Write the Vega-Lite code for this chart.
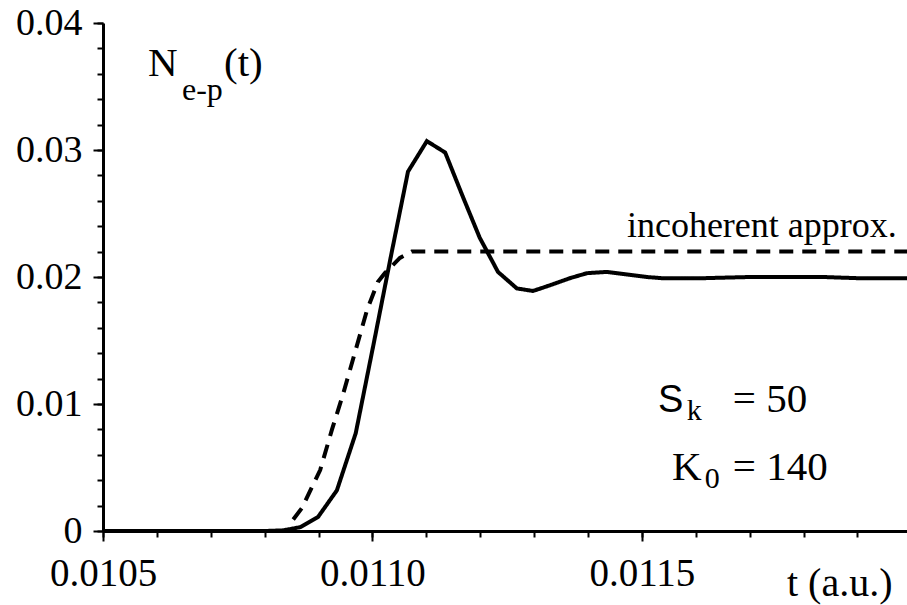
{
  "$schema": "https://vega.github.io/schema/vega-lite/v6.json",
  "width": 804,
  "height": 508,
  "autosize": "none",
  "padding": {"left": 103, "top": 23, "right": 0, "bottom": 74},
  "background": "white",
  "config": {
    "view": {"stroke": null},
    "font": "Liberation Serif",
    "text": {"font": "Liberation Serif", "color": "black"},
    "axis": {
      "grid": false,
      "domainColor": "black",
      "domainWidth": 3,
      "tickColor": "black",
      "tickWidth": 2,
      "labelColor": "black",
      "labelFont": "Liberation Serif",
      "titleFont": "Liberation Serif",
      "titleColor": "black",
      "titleFontWeight": "normal",
      "labelOverlap": false,
      "labelFlush": false
    }
  },
  "datasets": {
    "curves": [
      {"t": 0.010500, "N": 0.0000, "series": "exact"},
      {"t": 0.010800, "N": 0.0000, "series": "exact"},
      {"t": 0.010834, "N": 0.00005, "series": "exact"},
      {"t": 0.010866, "N": 0.0003, "series": "exact"},
      {"t": 0.010899, "N": 0.0011, "series": "exact"},
      {"t": 0.010934, "N": 0.0032, "series": "exact"},
      {"t": 0.010969, "N": 0.0077, "series": "exact"},
      {"t": 0.011003, "N": 0.0149, "series": "exact"},
      {"t": 0.011036, "N": 0.0220, "series": "exact"},
      {"t": 0.011066, "N": 0.0283, "series": "exact"},
      {"t": 0.011101, "N": 0.0307, "series": "exact"},
      {"t": 0.011135, "N": 0.0298, "series": "exact"},
      {"t": 0.011168, "N": 0.0263, "series": "exact"},
      {"t": 0.011199, "N": 0.0231, "series": "exact"},
      {"t": 0.011233, "N": 0.0204, "series": "exact"},
      {"t": 0.011268, "N": 0.0191, "series": "exact"},
      {"t": 0.011298, "N": 0.0189, "series": "exact"},
      {"t": 0.011333, "N": 0.0194, "series": "exact"},
      {"t": 0.011366, "N": 0.0199, "series": "exact"},
      {"t": 0.011398, "N": 0.0203, "series": "exact"},
      {"t": 0.011435, "N": 0.0204, "series": "exact"},
      {"t": 0.011472, "N": 0.0202, "series": "exact"},
      {"t": 0.011509, "N": 0.0200, "series": "exact"},
      {"t": 0.011539, "N": 0.0199, "series": "exact"},
      {"t": 0.011571, "N": 0.0199, "series": "exact"},
      {"t": 0.011608, "N": 0.0199, "series": "exact"},
      {"t": 0.011700, "N": 0.0200, "series": "exact"},
      {"t": 0.011775, "N": 0.0200, "series": "exact"},
      {"t": 0.011836, "N": 0.0200, "series": "exact"},
      {"t": 0.011905, "N": 0.0199, "series": "exact"},
      {"t": 0.011992, "N": 0.0199, "series": "exact"},
      {"t": 0.010853, "N": 0.0009, "series": "incoherent"},
      {"t": 0.010869, "N": 0.0018, "series": "incoherent"},
      {"t": 0.010903, "N": 0.0048, "series": "incoherent"},
      {"t": 0.010925, "N": 0.0080, "series": "incoherent"},
      {"t": 0.010945, "N": 0.0107, "series": "incoherent"},
      {"t": 0.010990, "N": 0.0174, "series": "incoherent"},
      {"t": 0.011010, "N": 0.0196, "series": "incoherent"},
      {"t": 0.011023, "N": 0.0203, "series": "incoherent"},
      {"t": 0.011051, "N": 0.0215, "series": "incoherent"},
      {"t": 0.011073, "N": 0.0220, "series": "incoherent"},
      {"t": 0.011992, "N": 0.0220, "series": "incoherent"}
    ],
    "one": [{}]
  },
  "resolve": {"axis": {"x": "independent", "y": "independent"}},
  "layer": [
    {
      "data": {"name": "curves"},
      "mark": {"type": "line", "color": "black", "strokeWidth": 4, "strokeJoin": "miter", "strokeCap": "butt", "clip": true},
      "encoding": {
        "x": {
          "field": "t", "type": "quantitative",
          "scale": {"domain": [0.0105, 0.011992], "nice": false, "zero": false},
          "axis": {
            "orient": "bottom",
            "values": [0.0105, 0.011, 0.0115],
            "format": ".4f",
            "domain": false,
            "tickSize": 10,
            "labelFontSize": 39,
            "labelBaseline": "alphabetic",
            "labelPadding": 44,
            "title": "t (a.u.)",
            "titleFontSize": 40,
            "titleAnchor": null,
            "titleAlign": "right",
            "titleBaseline": "alphabetic",
            "titleX": 789,
            "titleY": 64
          }
        },
        "y": {
          "field": "N", "type": "quantitative",
          "scale": {"domain": [0, 0.04], "nice": false},
          "axis": {
            "orient": "left",
            "values": [0, 0.01, 0.02, 0.03, 0.04],
            "labelExpr": "datum.value == 0 ? '0' : format(datum.value, '.2f')",
            "domain": false,
            "tickSize": 10,
            "labelFontSize": 38,
            "labelPadding": 11,
            "labelBaseline": "middle",
            "title": null
          }
        },
        "strokeDash": {
          "field": "series", "type": "nominal",
          "scale": {"domain": ["exact", "incoherent"], "range": [[1, 0], [14, 9]]},
          "legend": null
        }
      }
    },
    {
      "data": {"name": "one"},
      "mark": {"type": "text", "align": "left", "baseline": "alphabetic", "fontSize": 41},
      "encoding": {
        "x": {
          "datum": 0.0105835, "type": "quantitative",
          "scale": {"domain": [0.0105, 0.011992], "nice": false, "zero": false},
          "axis": {
            "orient": "bottom",
            "values": [0.0105, 0.0106, 0.0107, 0.0108, 0.0109, 0.011, 0.0111, 0.0112, 0.0113, 0.0114, 0.0115, 0.0116, 0.0117, 0.0118, 0.0119],
            "labels": false,
            "domain": true,
            "tickSize": 6,
            "title": null
          }
        },
        "y": {
          "datum": 0.035827, "type": "quantitative",
          "scale": {"domain": [0, 0.04], "nice": false},
          "axis": {
            "orient": "left",
            "values": [0, 0.002, 0.004, 0.006, 0.008, 0.01, 0.012, 0.014, 0.016, 0.018, 0.02, 0.022, 0.024, 0.026, 0.028, 0.03, 0.032, 0.034, 0.036, 0.038, 0.04],
            "labels": false,
            "domain": true,
            "tickSize": 6,
            "title": null
          }
        },
        "text": {"value": "N"}
      }
    },
    {
      "data": {"name": "one"},
      "mark": {"type": "text", "align": "left", "baseline": "alphabetic", "fontSize": 32},
      "encoding": {
        "x": {"datum": 0.0106466, "type": "quantitative", "axis": null},
        "y": {"datum": 0.033937, "type": "quantitative", "axis": null},
        "text": {"value": "e-p"}
      }
    },
    {
      "data": {"name": "one"},
      "mark": {"type": "text", "align": "left", "baseline": "alphabetic", "fontSize": 41},
      "encoding": {
        "x": {"datum": 0.0107245, "type": "quantitative", "axis": null},
        "y": {"datum": 0.035827, "type": "quantitative", "axis": null},
        "text": {"value": "(t)"}
      }
    },
    {
      "data": {"name": "one"},
      "mark": {"type": "text", "align": "right", "baseline": "alphabetic", "fontSize": 36},
      "encoding": {
        "x": {"datum": 0.0119731, "type": "quantitative", "axis": null},
        "y": {"datum": 0.02315, "type": "quantitative", "axis": null},
        "text": {"value": "incoherent approx."}
      }
    },
    {
      "data": {"name": "one"},
      "mark": {"type": "text", "align": "left", "baseline": "alphabetic", "fontSize": 38, "font": "Liberation Sans"},
      "encoding": {
        "x": {"datum": 0.0115297, "type": "quantitative", "axis": null},
        "y": {"datum": 0.0093701, "type": "quantitative", "axis": null},
        "text": {"value": "S"}
      }
    },
    {
      "data": {"name": "one"},
      "mark": {"type": "text", "align": "left", "baseline": "alphabetic", "fontSize": 30},
      "encoding": {
        "x": {"datum": 0.0115835, "type": "quantitative", "axis": null},
        "y": {"datum": 0.00874, "type": "quantitative", "axis": null},
        "text": {"value": "k"}
      }
    },
    {
      "data": {"name": "one"},
      "mark": {"type": "text", "align": "left", "baseline": "alphabetic", "fontSize": 41},
      "encoding": {
        "x": {"datum": 0.0116688, "type": "quantitative", "axis": null},
        "y": {"datum": 0.0093701, "type": "quantitative", "axis": null},
        "text": {"value": "= 50"}
      }
    },
    {
      "data": {"name": "one"},
      "mark": {"type": "text", "align": "left", "baseline": "alphabetic", "fontSize": 41},
      "encoding": {
        "x": {"datum": 0.0115557, "type": "quantitative", "axis": null},
        "y": {"datum": 0.0040157, "type": "quantitative", "axis": null},
        "text": {"value": "K"}
      }
    },
    {
      "data": {"name": "one"},
      "mark": {"type": "text", "align": "left", "baseline": "alphabetic", "fontSize": 30},
      "encoding": {
        "x": {"datum": 0.0116169, "type": "quantitative", "axis": null},
        "y": {"datum": 0.003386, "type": "quantitative", "axis": null},
        "text": {"value": "0"}
      }
    },
    {
      "data": {"name": "one"},
      "mark": {"type": "text", "align": "left", "baseline": "alphabetic", "fontSize": 41},
      "encoding": {
        "x": {"datum": 0.0116688, "type": "quantitative", "axis": null},
        "y": {"datum": 0.0040157, "type": "quantitative", "axis": null},
        "text": {"value": "= 140"}
      }
    }
  ]
}
